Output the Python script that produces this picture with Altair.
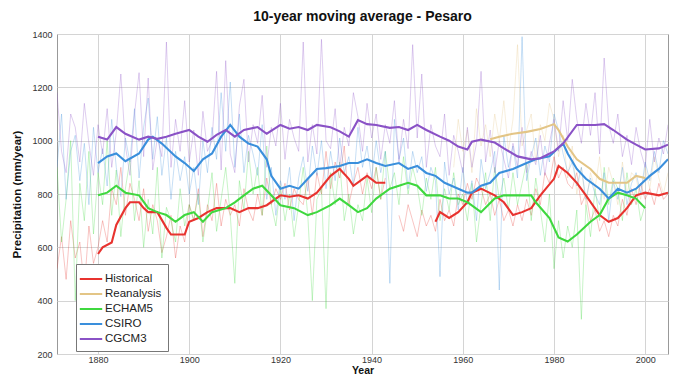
import altair as alt
import pandas as pd

series_names = ["Historical", "Reanalysis", "ECHAM5", "CSIRO", "CGCM3"]
series_colors = ["#e8332f", "#e3c586", "#3fd83f", "#3a8fdc", "#8a52c6"]

# ---- annual values (thin lines) ----
hist_years_a = list(range(1871, 1944))
hist_annual_a = [520, 640, 480, 700, 560, 620, 450, 680, 540, 600,
                 700, 620, 820, 760, 900, 720, 840, 780, 700, 820,
                 660, 760, 700, 580, 640, 720, 560, 680, 620, 760,
                 700, 820, 640, 760, 700, 840, 680, 780, 720, 760,
                 680, 820, 740, 700, 800, 720, 860, 760, 820, 780,
                 840, 740, 820, 780, 760, 860, 720, 880, 800, 960,
                 820, 920, 860, 980, 760, 840, 900, 800, 880, 820,
                 900, 780, 860]
hist_years_b = list(range(1946, 2006))
hist_annual_b = [720, 660, 760, 700, 640,
                 740, 680, 720, 660, 780, 700, 740, 680, 800, 760,
                 840, 780, 860, 820, 760, 800, 720, 780, 700, 740,
                 680, 760, 700, 780, 720, 820, 760, 880, 840, 940,
                 860, 900, 840, 820, 880, 760, 800, 700, 740, 660,
                 700, 640, 720, 680, 780, 720, 820, 760, 840, 780,
                 820, 760, 840, 780, 800]

rean_years = list(range(1958, 2006))
rean_annual = [900, 1080, 960, 1040, 880, 1120, 980, 1060, 940, 1100,
               1000, 1150, 960, 1080, 1360, 980, 1040, 1100, 920, 1060,
               1000, 1140, 1080, 940, 1020, 860, 980, 800, 900, 760,
               880, 820, 940, 780, 900, 840, 760, 920, 800, 880,
               860, 780, 900, 820, 940, 860, 800, 880]

echam_years = list(range(1871, 2001))
echam_annual = [900, 620, 780, 1000, 400, 840, 700, 960, 650, 880,
                760, 1000, 720, 890, 640, 820, 930, 700, 850, 600,
                780, 650, 900, 560, 750, 700, 620, 820, 680, 760,
                700, 800, 620, 740, 880, 660, 780, 900, 720, 465,
                850, 740, 960, 800, 900, 720, 980, 760, 680, 830,
                700, 800, 640, 760, 900, 720, 400, 780, 820, 370,
                880, 760, 920, 700, 800, 650, 760, 700, 860, 730,
                900, 780, 960, 820, 880, 760, 940, 800, 900, 830,
                720, 860, 780, 900, 700, 820, 740, 880, 760, 800,
                700, 840, 620, 760, 880, 700, 900, 780, 860, 740,
                880, 760, 840, 920, 700, 860, 740, 620, 800, 520,
                700, 560, 680, 600, 740, 330, 760, 640, 820, 700,
                900, 760, 860, 820, 700, 880, 760, 820, 700, 760]

csiro_years = list(range(1871, 2006))
csiro_annual = [900, 1100, 780, 960, 1020, 850, 990, 760, 1050, 880,
                970, 830, 1080, 900, 790, 1010, 920, 1120, 860, 1050,
                1160, 930, 1090, 870, 1010, 780, 960, 850, 940, 800,
                900, 760, 1000, 880, 1050, 930, 1180, 960, 1220, 900,
                1100, 880, 1020, 950, 870, 1060, 780, 900, 720, 850,
                780, 900, 700, 860, 940, 810, 980, 870, 1000, 820,
                960, 850, 1010, 880, 940, 830, 1050, 900, 980, 860,
                1000, 880, 960, 465, 1080, 930, 1010, 820, 960, 880,
                940, 810, 900, 850, 490, 920, 800, 860, 740, 900,
                760, 850, 700, 930, 820, 880, 960, 440, 1020, 900,
                980, 860, 1390, 850, 940, 1010, 870, 980, 920, 1100,
                1040, 950, 880, 920, 830, 900, 780, 860, 800, 760,
                880, 700, 850, 780, 900, 760, 840, 880, 800, 920,
                850, 960, 880, 1000, 950]

cgcm_years = list(range(1871, 2006))
cgcm_annual = [1180, 960, 880, 1100, 1050, 920, 1140, 990, 870, 1060,
               950, 1120, 900, 1030, 1250, 980, 870, 1100, 1255, 940,
               1235, 890, 1010, 940, 1370, 900, 1080, 960, 1150, 920,
               1040, 870, 1110, 960, 1000, 1260, 890, 1300, 950, 880,
               1130, 1230, 920, 1060, 990, 1170, 900, 1050, 980, 1140,
               930, 1080, 1010, 960, 1370, 920, 1060, 950, 1380, 1000,
               970, 1120, 900, 1050, 980, 1180, 1090, 960, 1140, 1010,
               1100, 930, 1060, 990, 1150, 920, 1080, 970, 1360, 1010,
               1250, 900, 1060, 980, 940, 1100, 870, 1020, 960, 880,
               1050, 900, 990, 1260, 920, 1040, 880, 1000, 930, 860,
               990, 900, 1050, 880, 960, 910, 1020, 870, 990, 1080,
               960, 1150, 1000, 1230, 1080, 990, 1140, 1020, 1180, 950,
               1310, 1060, 990, 1100, 940, 1020, 910, 1050, 960, 900,
               1080, 920, 1010, 950, 1060]

# ---- 10-year moving averages (thick lines) ----
hist_ma_years_a = [1880, 1881, 1883, 1884, 1886, 1887, 1889, 1890, 1891, 1893,
                   1895, 1896, 1898, 1899, 1900, 1902, 1904, 1906, 1909, 1911,
                   1913, 1915, 1917, 1920, 1922, 1924, 1926, 1928, 1931, 1933,
                   1935, 1936, 1939, 1941, 1943]
hist_ma_a = [575, 600, 618, 684, 747, 769, 769, 747, 732, 732,
             673, 648, 648, 648, 696, 710, 732, 747, 747, 732,
             747, 747, 758, 795, 790, 795, 783, 805, 868, 894,
             857, 831, 868, 842, 842]
hist_ma_years_b = [1954, 1955, 1957, 1959, 1961, 1962, 1964, 1967, 1969, 1971,
                   1973, 1975, 1977, 1980, 1981, 1983, 1985, 1987, 1990, 1992,
                   1994, 1996, 1998, 2000, 2003, 2005]
hist_ma_b = [696, 732, 710, 732, 769, 805, 820, 795, 769, 721,
             732, 747, 795, 857, 905, 879, 842, 795, 721, 696,
             710, 747, 795, 805, 795, 805]

rean_ma_years = [1966, 1968, 1971, 1974, 1977, 1980, 1981, 1983, 1985, 1988,
                 1990, 1992, 1996, 1998, 2000]
rean_ma = [1005, 1015, 1026, 1033, 1044, 1062, 1040, 978, 930, 894,
           857, 842, 842, 868, 860]

echam_ma_years = [1880, 1882, 1884, 1886, 1889, 1891, 1893, 1895, 1897, 1899,
                  1901, 1903, 1905, 1908, 1910, 1912, 1914, 1916, 1918, 1920,
                  1923, 1926, 1928, 1931, 1933, 1935, 1937, 1939, 1941, 1944,
                  1946, 1948, 1950, 1952, 1955, 1957, 1959, 1961, 1964, 1967,
                  1969, 1971, 1975, 1976, 1979, 1981, 1983, 1985, 1988, 1990,
                  1992, 1994, 1996, 1998, 2000]
echam_ma = [795, 805, 831, 805, 795, 747, 732, 721, 696, 721,
            732, 696, 732, 747, 769, 795, 820, 831, 795, 758,
            747, 721, 732, 758, 783, 758, 732, 747, 783, 820,
            831, 842, 831, 795, 795, 783, 783, 769, 732, 783,
            795, 795, 795, 769, 710, 637, 622, 648, 696, 721,
            783, 805, 795, 783, 747]

csiro_ma_years = [1880, 1882, 1884, 1886, 1889, 1891, 1892, 1894, 1897, 1899,
                  1901, 1903, 1905, 1907, 1909, 1911, 1913, 1915, 1917, 1918,
                  1920, 1922, 1924, 1926, 1928, 1930, 1933, 1935, 1937, 1939,
                  1941, 1943, 1946, 1948, 1950, 1952, 1954, 1956, 1959, 1961,
                  1962, 1964, 1966, 1968, 1971, 1974, 1976, 1979, 1982, 1983,
                  1985, 1987, 1990, 1992, 1994, 1996, 1998, 2001, 2003, 2005]
csiro_ma = [916, 941, 952, 923, 952, 1004, 1015, 989, 941, 916,
            886, 930, 952, 1015, 1059, 1015, 989, 978, 930, 868,
            820, 831, 820, 857, 894, 897, 905, 916, 916, 930,
            916, 905, 916, 894, 905, 879, 868, 842, 820, 805,
            805, 831, 842, 879, 894, 916, 930, 941, 989, 952,
            894, 857, 820, 783, 820, 805, 820, 868, 894, 930]

cgcm_ma_years = [1880, 1882, 1884, 1886, 1889, 1891, 1893, 1895, 1897, 1900,
                 1902, 1904, 1906, 1908, 1910, 1912, 1915, 1917, 1920, 1922,
                 1924, 1926, 1928, 1931, 1933, 1935, 1937, 1939, 1941, 1944,
                 1946, 1948, 1950, 1952, 1955, 1957, 1959, 1961, 1962, 1964,
                 1967, 1969, 1972, 1975, 1977, 1980, 1982, 1985, 1989, 1991,
                 1993, 1996, 1998, 2000, 2003, 2005]
cgcm_ma = [1015, 1004, 1051, 1026, 1004, 1015, 1007, 1015, 1026, 1040,
           1015, 996, 1022, 1040, 1015, 1040, 1051, 1026, 1059, 1045,
           1051, 1040, 1059, 1050, 1035, 1015, 1077, 1062, 1059, 1048,
           1051, 1040, 1059, 1040, 1015, 1000, 978, 967, 996, 1004,
           993, 971, 941, 930, 934, 960, 989, 1059, 1059, 1062,
           1040, 1004, 985, 967, 971, 985]

x_ticks = [1880, 1900, 1920, 1940, 1960, 1980, 2000]
y_ticks = [200, 400, 600, 800, 1000, 1200, 1400]


def rows(years, values, name, seg, kind):
    return [{"year": y, "value": v, "series": name, "seg": seg + " " + kind}
            for y, v in zip(years, values)]


annual_rows = (rows(hist_years_a, hist_annual_a, "Historical", "Historical a", "annual")
               + rows(hist_years_b, hist_annual_b, "Historical", "Historical b", "annual")
               + rows(rean_years, rean_annual, "Reanalysis", "Reanalysis", "annual")
               + rows(echam_years, echam_annual, "ECHAM5", "ECHAM5", "annual")
               + rows(csiro_years, csiro_annual, "CSIRO", "CSIRO", "annual")
               + rows(cgcm_years, cgcm_annual, "CGCM3", "CGCM3", "annual"))
ma_rows = (rows(hist_ma_years_a, hist_ma_a, "Historical", "Historical a", "ma")
           + rows(hist_ma_years_b, hist_ma_b, "Historical", "Historical b", "ma")
           + rows(rean_ma_years, rean_ma, "Reanalysis", "Reanalysis", "ma")
           + rows(echam_ma_years, echam_ma, "ECHAM5", "ECHAM5", "ma")
           + rows(csiro_ma_years, csiro_ma, "CSIRO", "CSIRO", "ma")
           + rows(cgcm_ma_years, cgcm_ma, "CGCM3", "CGCM3", "ma"))
df_annual = pd.DataFrame(annual_rows)
df_ma = pd.DataFrame(ma_rows)

FONT = "Liberation Sans"
color_scale = alt.Scale(domain=series_names, range=series_colors)
legend = alt.Legend(title=None, orient="none", legendX=19, legendY=230,
                    symbolOpacity=1, symbolStrokeWidth=2)

x_enc = alt.X("year:Q",
              scale=alt.Scale(domain=[1871, 2005], nice=False, zero=False),
              axis=alt.Axis(values=x_ticks, format="d", title="Year",
                            titleFontWeight="bold", titleFontSize=10.5,
                            titlePadding=1, labelPadding=1))
y_enc = alt.Y("value:Q",
              scale=alt.Scale(domain=[200, 1400], nice=False, zero=False),
              axis=alt.Axis(values=y_ticks, format="d",
                            title="Precipitation (mm/year)",
                            titleFontWeight="bold", titleFontSize=11.5,
                            titlePadding=9, labelPadding=5))

thin = alt.Chart(df_annual).mark_line(strokeWidth=0.8, opacity=0.36, clip=True).encode(
    x=x_enc, y=y_enc,
    color=alt.Color("series:N", scale=color_scale, sort=series_names, legend=legend),
    detail="seg:N",
    order="year:Q",
)

thick = alt.Chart(df_ma).mark_line(strokeWidth=2.1, clip=True).encode(
    x=x_enc, y=y_enc,
    color=alt.Color("series:N", scale=color_scale, sort=series_names, legend=legend),
    detail="seg:N",
    order="year:Q",
)

chart = alt.layer(thin, thick).properties(
    width=611,
    height=320,
    autosize=alt.AutoSizeParams(type="none"),
    padding={"left": 49, "top": 26, "right": 1, "bottom": 23},
    title=alt.TitleParams("10-year moving average - Pesaro", fontSize=14,
                          fontWeight="bold", font=FONT, color="#111",
                          anchor="middle", offset=6),
).configure_view(
    stroke="#999999", strokeWidth=1
).configure_axis(
    grid=True, gridColor="#d4d4d4", gridWidth=1,
    domain=False, ticks=False,
    labelFont=FONT, labelFontSize=9, labelColor="#333",
    titleFont=FONT, titleColor="#111",
).configure_legend(
    fillColor="white", strokeColor="#777", padding=6, cornerRadius=0,
    symbolType="M-1.4,0L1.4,0", symbolSize=256, symbolStrokeWidth=2,
    symbolOpacity=1,
    labelFont=FONT, labelFontSize=11.5, labelColor="#222",
    rowPadding=0, labelOffset=5,
)

chart.save("out.html", embed_options={"renderer": "svg", "actions": False})
